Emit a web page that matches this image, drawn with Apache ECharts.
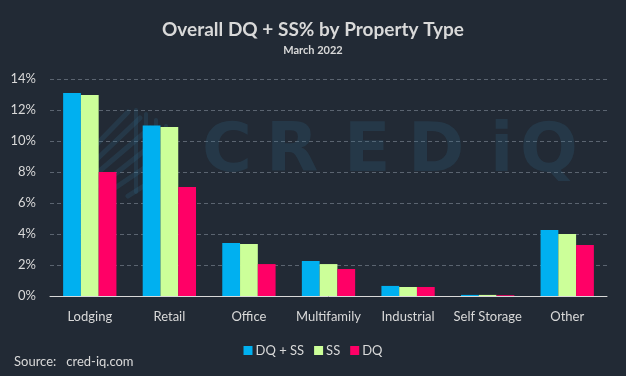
<!DOCTYPE html>
<html>
<head>
<meta charset="utf-8">
<script src="https://cdn.jsdelivr.net/npm/echarts@6/dist/echarts.min.js"></script>
<style>
  html, body { margin: 0; padding: 0; background: #222a35; }
  #chart { width: 626px; height: 376px; }
</style>
</head>
<body>
<div id="chart"></div>
<script>
var categories = ['Lodging', 'Retail', 'Office', 'Multifamily', 'Industrial', 'Self Storage', 'Other'];
var dqss = [13.1, 11.0, 3.42, 2.26, 0.65, 0.07, 4.26];
var ss = [12.97, 10.9, 3.35, 2.06, 0.58, 0.07, 4.0];
var dq = [8.0, 7.03, 2.06, 1.74, 0.58, 0.05, 3.29];
var yTicks = [0, 2, 4, 6, 8, 10, 12, 14];

var font = 'Lato, "Open Sans", sans-serif';
var txt = '#d9d9d9';

// watermark logo stripes + letters (behind the bars)
var wm = 'rgba(50,110,140,0.22)';
var logo = [];
[[96, 145, 128, 112], [96, 160, 140, 118], [96, 174, 150, 128], [100, 186, 158, 140],
 [112, 190, 162, 156], [128, 196, 166, 172]].forEach(function (p) {
    logo.push({ type: 'line', shape: { x1: p[0], y1: p[1], x2: p[2], y2: p[3] },
        style: { stroke: wm, lineWidth: 5, lineCap: 'round' }, z: 1 });
});
[[136, 110, 136, 192], [146, 114, 146, 186], [156, 120, 156, 178], [166, 126, 166, 170]].forEach(function (p) {
    logo.push({ type: 'line', shape: { x1: p[0], y1: p[1], x2: p[2], y2: p[3] },
        style: { stroke: wm, lineWidth: 4, lineCap: 'round' }, z: 1 });
});
[['C', 202], ['R', 266], ['E', 344], ['D', 408], ['i', 490], ['Q', 520]].forEach(function (l) {
    logo.push({ type: 'text', z: 1,
        style: { text: l[0], x: l[1], y: 153, verticalAlign: 'middle', fill: wm,
                 font: 'bold 68px "DejaVu Sans", sans-serif' } });
});

var chart = echarts.init(document.getElementById('chart'));
chart.setOption({
    backgroundColor: '#222a35',
    animation: false,
    title: {
        text: 'Overall DQ + SS% by Property Type',
        subtext: 'March 2022',
        left: 'center',
        top: 15,
        itemGap: 6,
        textStyle: { color: txt, fontFamily: font, fontSize: 19, fontWeight: 'bold' },
        subtextStyle: { color: txt, fontFamily: font, fontSize: 11, fontWeight: 'bold' }
    },
    legend: {
        data: ['DQ + SS', 'SS', 'DQ'],
        bottom: 14,
        left: 'center',
        itemWidth: 9,
        itemHeight: 9,
        itemGap: 10,
        icon: 'rect',
        textStyle: { color: txt, fontFamily: font, fontSize: 13, padding: [0, 0, 0, -2] }
    },
    grid: { left: 50, right: 19, top: 79, bottom: 80 },
    xAxis: {
        type: 'category',
        data: categories,
        axisLine: { lineStyle: { color: '#d9d9d9', width: 1 } },
        axisTick: { show: false },
        axisLabel: { color: txt, fontFamily: font, fontSize: 13, margin: 14, interval: 0 }
    },
    yAxis: {
        type: 'value',
        min: yTicks[0],
        max: yTicks[yTicks.length - 1],
        interval: 2,
        axisLine: { show: false },
        axisTick: { show: false },
        axisLabel: { color: txt, fontFamily: font, fontSize: 13, margin: 14, formatter: '{value}%' },
        splitLine: { lineStyle: { color: '#5b6470', type: [4, 3], width: 1 } }
    },
    series: [
        { name: 'DQ + SS', type: 'bar', data: dqss, barGap: '0%', barCategoryGap: '33%', z: 5, itemStyle: { color: '#00b0f0' } },
        { name: 'SS', type: 'bar', data: ss, z: 5, itemStyle: { color: '#ccff99' } },
        { name: 'DQ', type: 'bar', data: dq, z: 5, itemStyle: { color: '#ff0066' } }
    ],
    graphic: logo.concat([
        {
            type: 'text', left: 14, top: 355,
            style: { text: 'Source:   cred-iq.com', fill: txt, font: '13px ' + font }
        }
    ])
});
</script>
</body>
</html>
